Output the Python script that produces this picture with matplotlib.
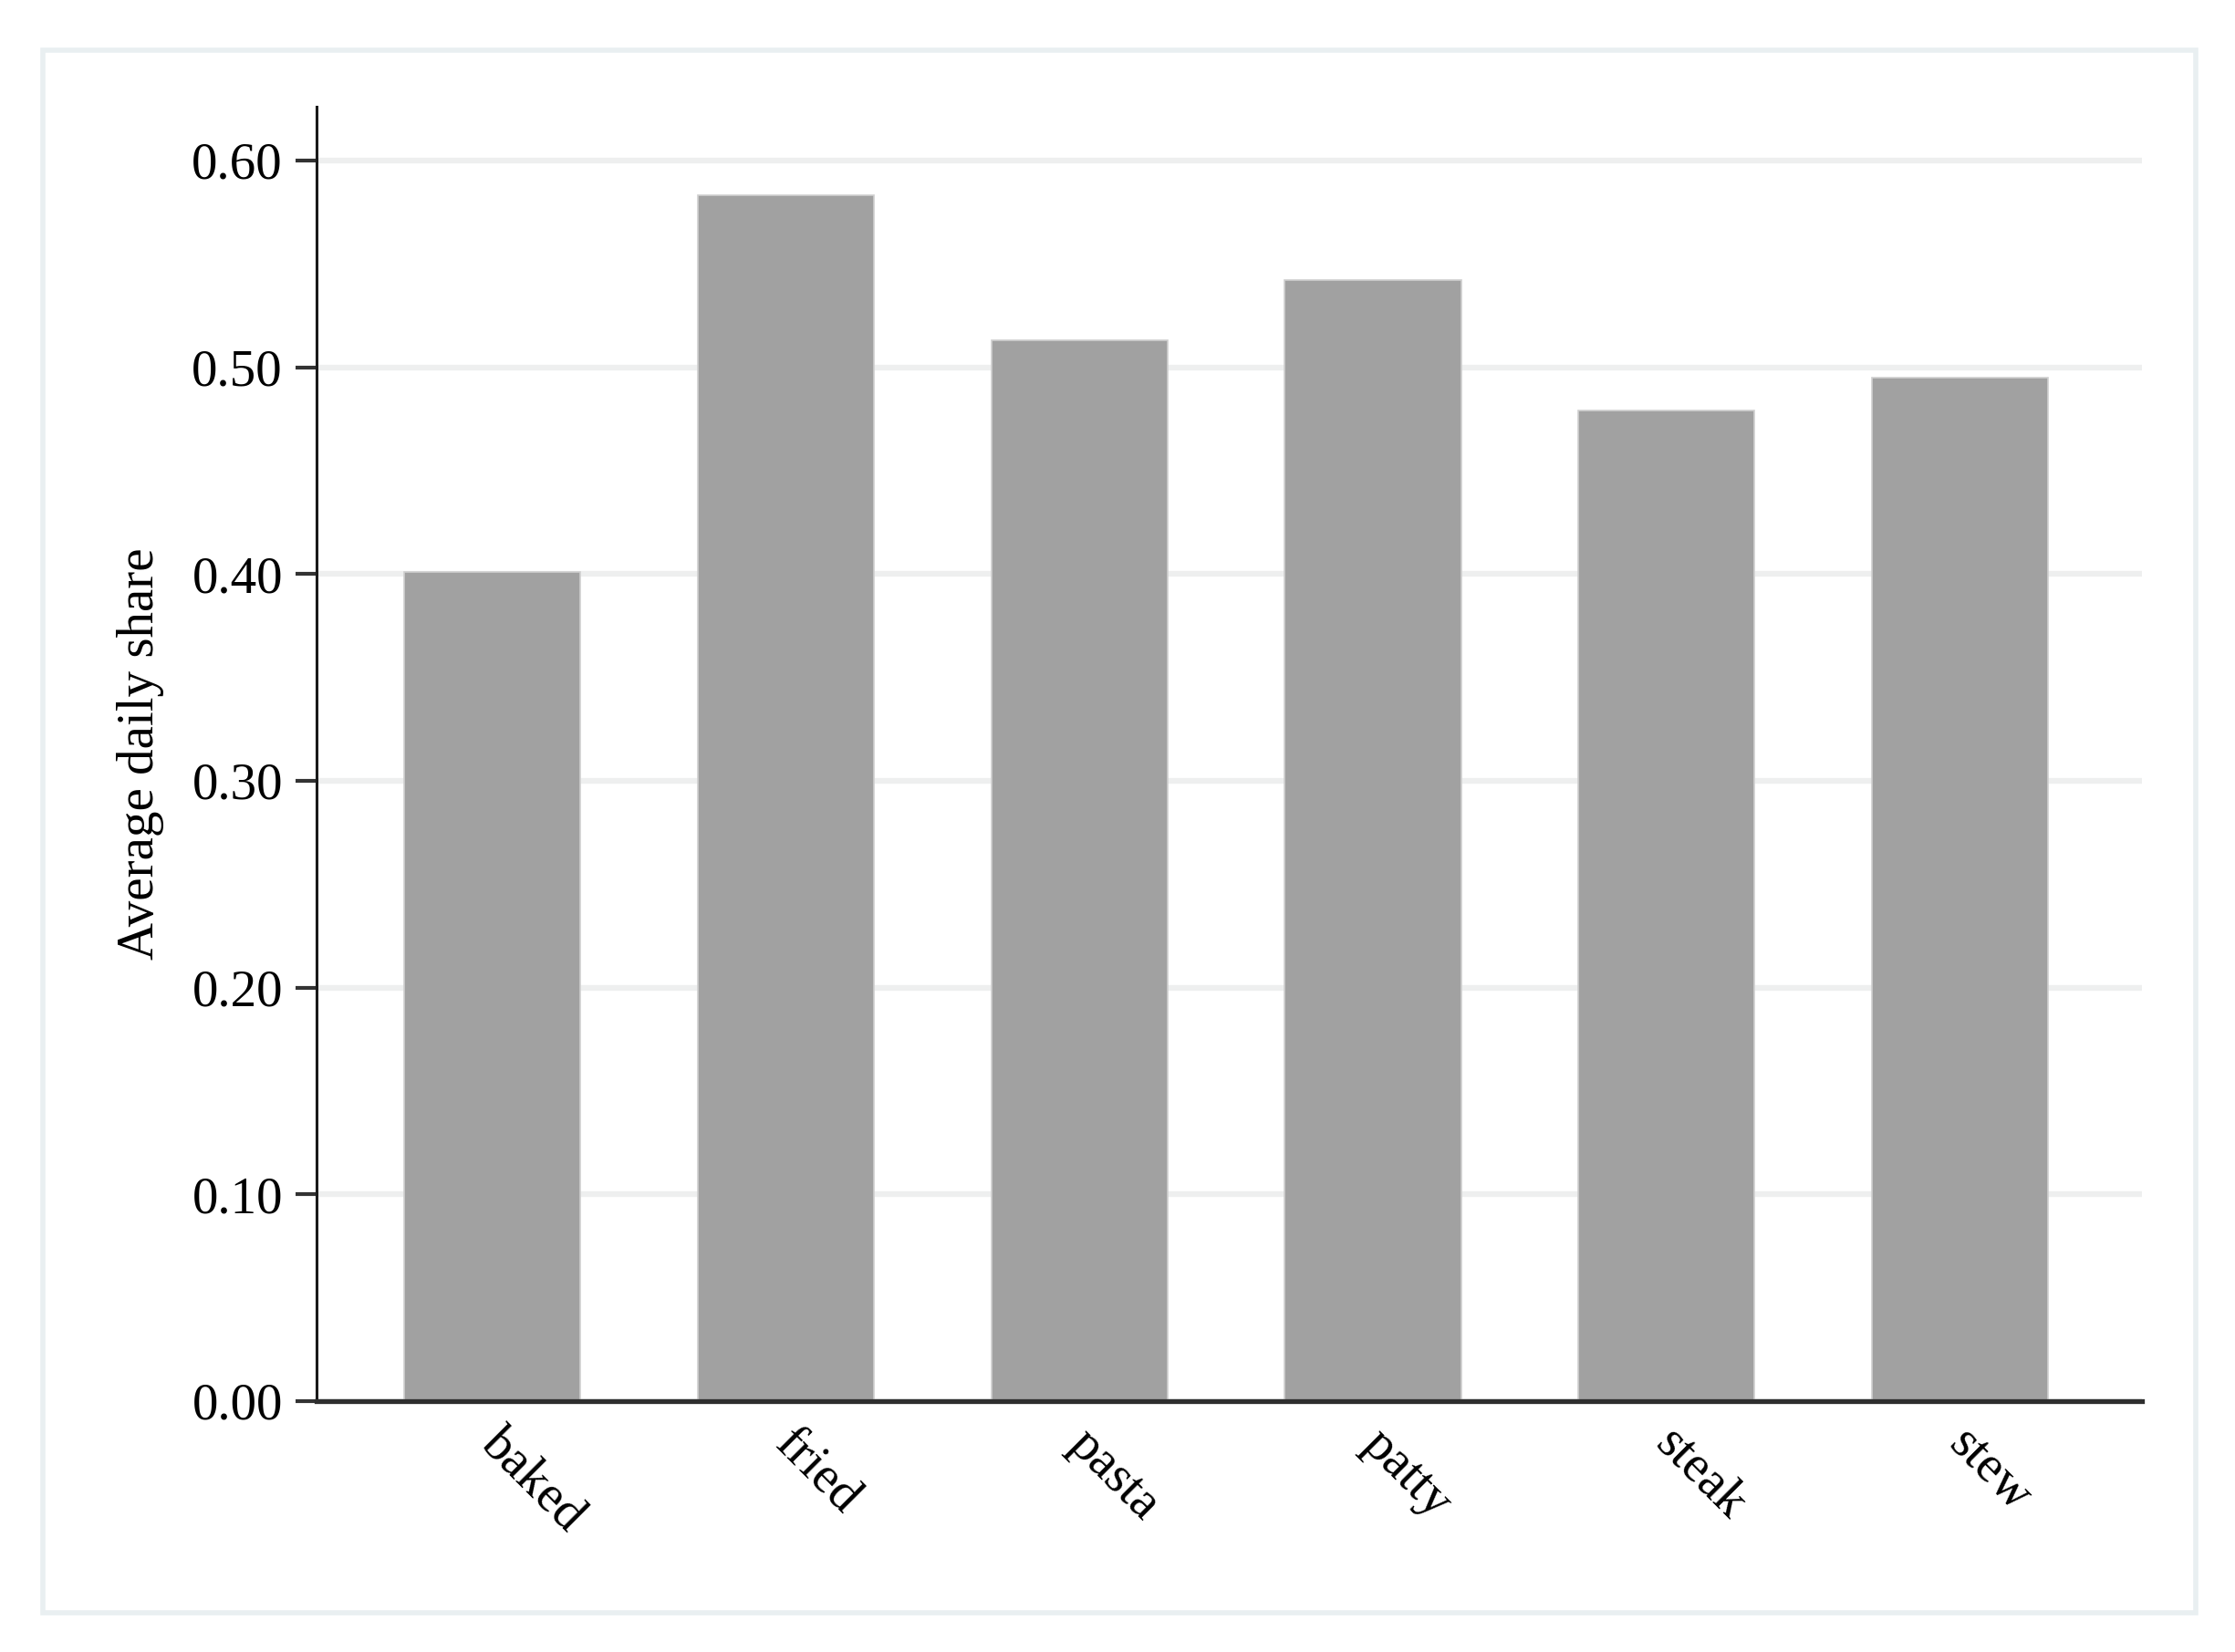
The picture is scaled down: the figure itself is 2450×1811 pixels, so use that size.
import matplotlib
matplotlib.use("Agg")
import matplotlib.pyplot as plt
from matplotlib.patches import Rectangle
from matplotlib.ticker import FormatStrFormatter
import matplotlib.transforms as mtransforms

categories = ["baked", "fried", "pasta", "patty", "steak", "stew"]
values = [0.401, 0.583, 0.513, 0.542, 0.479, 0.495]
yticks = [0.0, 0.1, 0.2, 0.3, 0.4, 0.5, 0.6]

plt.rcParams['font.family'] = ['Liberation Serif', 'DejaVu Serif']

fig = plt.figure(figsize=(24.5, 18.11), dpi=100)
fig.patch.set_facecolor("white")

# outer light frame
frame = Rectangle((47 / 2450, 1 - 1768 / 1811), (2407 - 47) / 2450, (1768 - 55) / 1811,
                  transform=fig.transFigure, fill=False, edgecolor="#e9eff1",
                  linewidth=4, zorder=0)
fig.patches.append(frame)

ax = fig.add_axes([346.7 / 2450, 1 - 1536 / 1811, (2348 - 346.7) / 2450, (1536 - 117) / 1811])
ax.set_facecolor("white")

x = list(range(len(categories)))
ax.bar(x, values, width=0.6, color="#a1a1a1", edgecolor="#cfcfcf", linewidth=1.2, zorder=2)

ax.set_xlim(-0.6, 5.62)
ax.set_ylim(0, 0.626)

ax.set_yticks(yticks)
ax.yaxis.set_major_formatter(FormatStrFormatter("%.2f"))
ax.grid(axis="y", color="#eeefef", linewidth=4.5, zorder=0)
ax.set_axisbelow(True)

for s in ["top", "right"]:
    ax.spines[s].set_visible(False)
ax.spines["left"].set_linewidth(2.2)
ax.spines["left"].set_color("#1a1a1a")
ax.spines["bottom"].set_linewidth(3.8)
ax.spines["bottom"].set_color("#2e2e2e")

ax.tick_params(axis="y", length=16.5, width=3, color="#333333", pad=10, labelsize=41)
ax.tick_params(axis="x", length=0, pad=15, labelsize=41)

ax.set_xticks(x)
ax.set_xticklabels(categories, rotation=-45, ha="left", va="top", rotation_mode="anchor")
offset = mtransforms.ScaledTranslation(10.4 / 72, 0, fig.dpi_scale_trans)
for lbl in ax.get_xticklabels():
    lbl.set_transform(lbl.get_transform() + offset)

ax.set_ylabel("Average daily share", fontsize=41, labelpad=22)

fig.savefig("out.png", dpi=100, facecolor="white")
